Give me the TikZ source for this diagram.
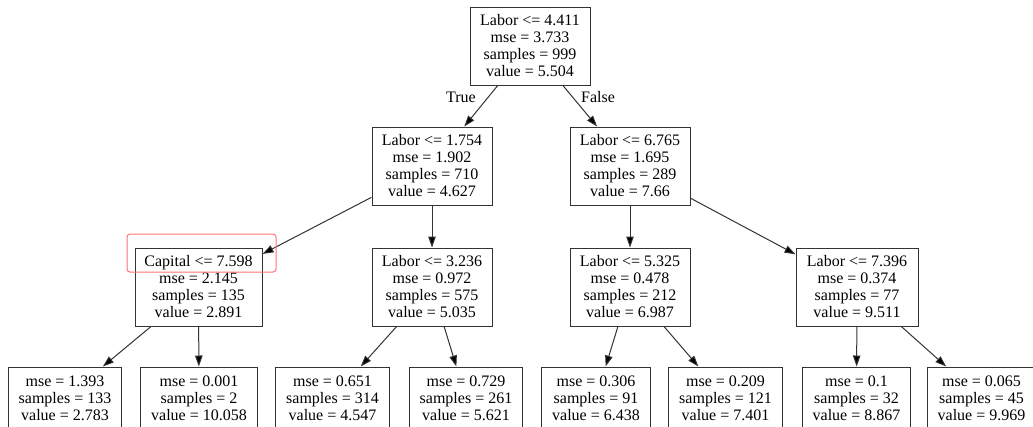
\documentclass[tikz,border=0pt]{standalone}
\usepackage{fontspec}
\setmainfont{Liberation Serif}
\usetikzlibrary{arrows.meta}

\begin{document}
\begin{tikzpicture}[x=1pt, y=-1pt,
    split/.style={draw=black!80, line width=1pt, align=center, inner sep=0pt,
        minimum width=120pt, minimum height=78pt, font=\fontsize{16}{17}\selectfont},
    leaf/.style={split, minimum width=0pt, minimum height=62pt, inner xsep=10.5pt},
    edge/.style={draw=black!80, line width=1pt, -{Triangle[length=11pt, width=7.5pt, fill=black]}},
    lbl/.style={font=\fontsize{16}{17}\selectfont},
    hilite/.style={draw=red!55, line width=1pt, rounded corners=3pt}]
    \useasboundingbox (0,0) rectangle (1033,426);

    % Root
    \node[split] (root) at (530,46) {Labor <= 4.411\\mse = 3.733\\samples = 999\\value = 5.504};

    % Level 1
    \node[split] (L) at (432,166) {Labor <= 1.754\\mse = 1.902\\samples = 710\\value = 4.627};
    \node[split] (R) at (630,166) {Labor <= 6.765\\mse = 1.695\\samples = 289\\value = 7.66};

    % Level 2
    \node[split, minimum width=127pt] (LL) at (198.5,287) {Capital <= 7.598\\mse = 2.145\\samples = 135\\value = 2.891};
    \node[split] (LR) at (432,287) {Labor <= 3.236\\mse = 0.972\\samples = 575\\value = 5.035};
    \node[split] (RL) at (630,287) {Labor <= 5.325\\mse = 0.478\\samples = 212\\value = 6.987};
    \node[split, minimum width=122pt] (RR) at (857,287) {Labor <= 7.396\\mse = 0.374\\samples = 77\\value = 9.511};

    % Leaves
    \node[leaf] (LLL) at (65,398) {mse = 1.393\\samples = 133\\value = 2.783};
    \node[leaf] (LLR) at (199,398) {mse = 0.001\\samples = 2\\value = 10.058};
    \node[leaf] (LRL) at (332.5,398) {mse = 0.651\\samples = 314\\value = 4.547};
    \node[leaf] (LRR) at (466,398) {mse = 0.729\\samples = 261\\value = 5.621};
    \node[leaf] (RLL) at (596,398) {mse = 0.306\\samples = 91\\value = 6.438};
    \node[leaf] (RLR) at (725.5,398) {mse = 0.209\\samples = 121\\value = 7.401};
    \node[leaf] (RRL) at (856.5,398) {mse = 0.1\\samples = 32\\value = 8.867};
    \node[leaf] (RRR) at (981.5,398) {mse = 0.065\\samples = 45\\value = 9.969};

    % Edges
    \draw[edge] (root) -- (L);
    \draw[edge] (root) -- (R);
    \node[lbl] (T) at (461,97) {True};
    \node[lbl] (F) at (598,97) {False};
    \draw[edge] (L) -- (LL);
    \draw[edge] (L) -- (LR);
    \draw[edge] (R) -- (RL);
    \draw[edge] (R) -- (RR);
    \draw[edge] (LL) -- (LLL);
    \draw[edge] (LL) -- (LLR);
    \draw[edge] (LR) -- (LRL);
    \draw[edge] (LR) -- (LRR);
    \draw[edge] (RL) -- (RLL);
    \draw[edge] (RL) -- (RLR);
    \draw[edge] (RR) -- (RRL);
    \draw[edge] (RR) -- (RRR);

    % Highlight
    \draw[hilite] (127,234) rectangle (276,272);
\end{tikzpicture}
\end{document}
